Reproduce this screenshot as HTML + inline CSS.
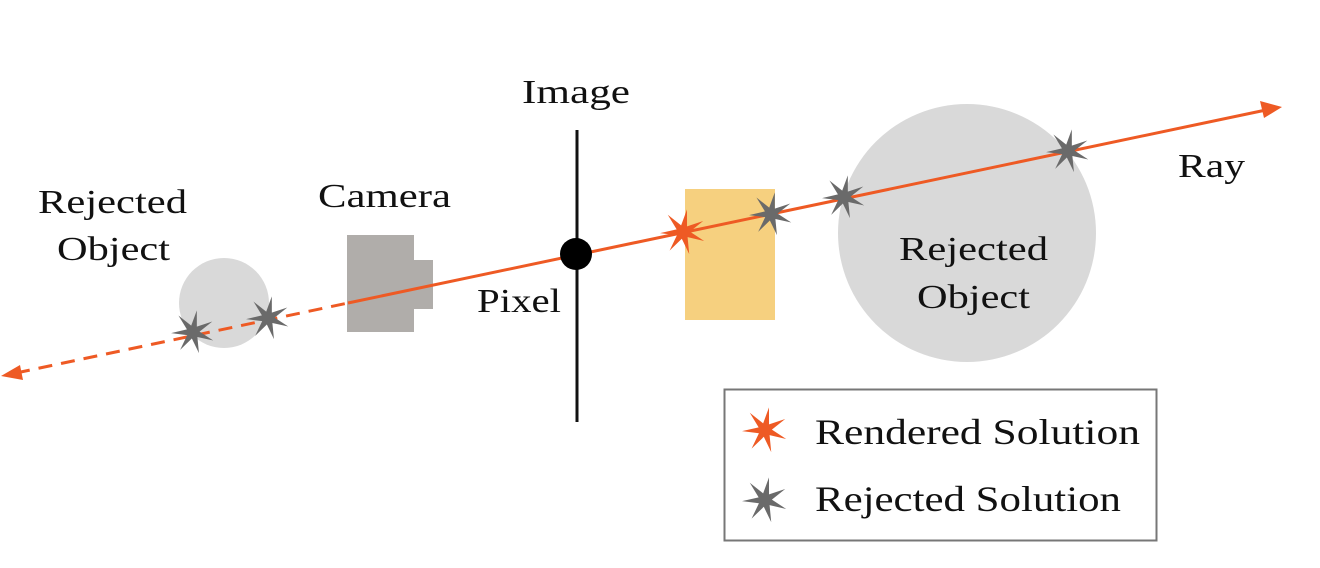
<!DOCTYPE html>
<html><head><meta charset="utf-8"><style>
html,body{margin:0;padding:0;background:#fff;}
svg{display:block;}
text{font-family:"Liberation Serif",serif;fill:#111;}
</style></head><body>
<svg width="1320" height="568" viewBox="0 0 1320 568" xmlns="http://www.w3.org/2000/svg">
<defs>
<polygon id="st" points="0,-1 0.130,-0.270 0.782,-0.624 0.292,-0.067 0.975,0.223 0.235,0.187 0.434,0.901 0,0.3 -0.434,0.901 -0.235,0.187 -0.975,0.223 -0.292,-0.067 -0.782,-0.624 -0.130,-0.270"/>
</defs>
<!-- objects -->
<ellipse cx="224" cy="303" rx="45" ry="45" fill="#d9d9d9"/>
<ellipse cx="967" cy="233" rx="129" ry="129" fill="#d9d9d9"/>
<rect x="685" y="189" width="90" height="131" fill="#f6d07f"/>
<rect x="347" y="235" width="67" height="97" fill="#b0adaa"/>
<rect x="413" y="260" width="20" height="49" fill="#b0adaa"/>
<!-- image plane -->
<line x1="577" y1="130" x2="577" y2="422" stroke="#111" stroke-width="3"/>
<!-- ray -->
<line x1="16" y1="373" x2="348" y2="303" stroke="#ee5a24" stroke-width="3" stroke-dasharray="14,9"/>
<line x1="348" y1="303" x2="1266" y2="110" stroke="#ee5a24" stroke-width="3"/>
<polygon points="1282,107 1260,101 1264,118" fill="#ee5a24"/>
<polygon points="1,376 20,365 23,380" fill="#ee5a24"/>
<circle cx="576" cy="254" r="16" fill="#000"/>
<!-- stars -->
<use href="#st" transform="translate(193,332) scale(22) rotate(10)" fill="#6a6a6a"/>
<use href="#st" transform="translate(268,318) scale(22) rotate(10)" fill="#6a6a6a"/>
<use href="#st" transform="translate(683,232) scale(23) rotate(10)" fill="#ee5a24"/>
<use href="#st" transform="translate(771,214) scale(22) rotate(10)" fill="#6a6a6a"/>
<use href="#st" transform="translate(844,197) scale(22) rotate(10)" fill="#6a6a6a"/>
<use href="#st" transform="translate(1068,151) scale(22) rotate(10)" fill="#6a6a6a"/>
<!-- labels -->
<text x="522" y="103" font-size="34" textLength="108" lengthAdjust="spacingAndGlyphs">Image</text>
<text x="318" y="207" font-size="34" textLength="133" lengthAdjust="spacingAndGlyphs">Camera</text>
<text x="38" y="213" font-size="34" textLength="149" lengthAdjust="spacingAndGlyphs">Rejected</text>
<text x="57" y="260" font-size="34" textLength="113" lengthAdjust="spacingAndGlyphs">Object</text>
<text x="477" y="312" font-size="34" textLength="84" lengthAdjust="spacingAndGlyphs">Pixel</text>
<text x="1178" y="177" font-size="34" textLength="67" lengthAdjust="spacingAndGlyphs">Ray</text>
<text x="899" y="260" font-size="34" textLength="149" lengthAdjust="spacingAndGlyphs">Rejected</text>
<text x="917" y="308" font-size="34" textLength="113" lengthAdjust="spacingAndGlyphs">Object</text>
<!-- legend -->
<rect x="724.5" y="389.5" width="432" height="151" fill="#fff" stroke="#777" stroke-width="2"/>
<use href="#st" transform="translate(765,430) scale(23) rotate(10)" fill="#ee5a24"/>
<use href="#st" transform="translate(765,500) scale(23) rotate(10)" fill="#6a6a6a"/>
<text x="815" y="444" font-size="36" textLength="325" lengthAdjust="spacingAndGlyphs">Rendered Solution</text>
<text x="815" y="511" font-size="36" textLength="306" lengthAdjust="spacingAndGlyphs">Rejected Solution</text>
</svg>
</body></html>
